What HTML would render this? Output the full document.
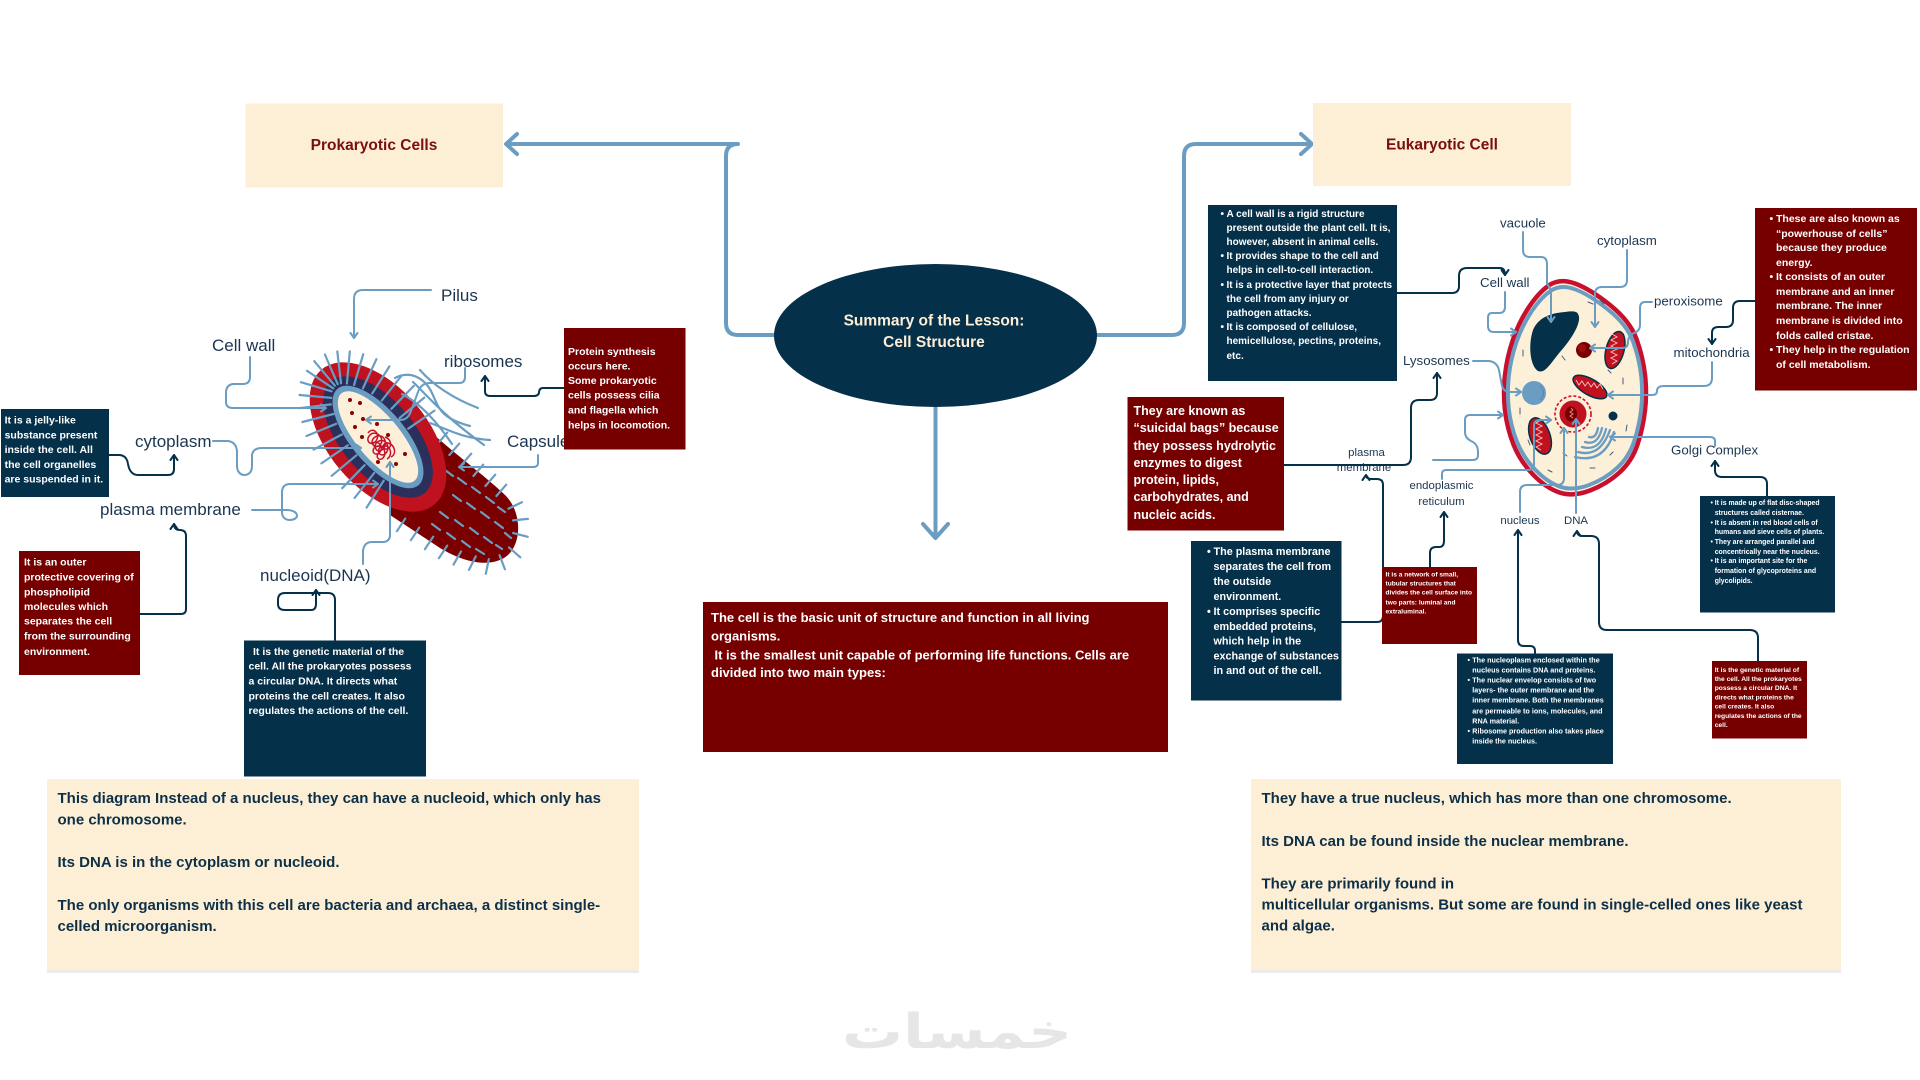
<!DOCTYPE html>
<html><head><meta charset="utf-8"><style>
html,body{margin:0;padding:0;background:#fff;width:1920px;height:1080px;overflow:hidden}
svg{display:block}
</style></head><body>
<svg width="1920" height="1080" viewBox="0 0 1920 1080" font-family="'Liberation Sans', Arial, sans-serif">
<defs>
<marker id="mb" markerUnits="userSpaceOnUse" markerWidth="10" markerHeight="10" refX="7" refY="5" orient="auto" overflow="visible"><path d="M2,1.5 L7,5 L2,8.5" fill="none" stroke="#6b9dc2" stroke-width="2" stroke-linecap="round" stroke-linejoin="round"/></marker>
<marker id="mn" markerUnits="userSpaceOnUse" markerWidth="10" markerHeight="10" refX="7" refY="5" orient="auto" overflow="visible"><path d="M2,1.5 L7,5 L2,8.5" fill="none" stroke="#05304a" stroke-width="2" stroke-linecap="round" stroke-linejoin="round"/></marker>
</defs>
<rect width="1920" height="1080" fill="#fff"/>

<!-- main connectors -->
<g fill="none" stroke="#6b9dc2" stroke-width="4" stroke-linecap="round" stroke-linejoin="round">
<path d="M775,335 H738 Q726,335 726,323 V156 Q726,144 738,144 H507"/>
<path d="M517,134 L506,144 L517,154"/>
<path d="M1096,335 H1172 Q1184,335 1184,323 V156 Q1184,144 1196,144 H1311"/>
<path d="M1301,134 L1312,144 L1301,154"/>
<path d="M935.5,408 V537"/>
<path d="M923,524 L935.5,538 L948,524"/>
</g>

<!-- title boxes -->
<rect x="245.5" y="103.5" width="257.5" height="84" fill="#fdefd6"/>
<text x="374" y="150" text-anchor="middle" font-size="15.5" font-weight="bold" fill="#7a0d0d">Prokaryotic Cells</text>
<rect x="1313" y="103" width="258" height="83" fill="#fdefd6"/>
<text x="1442" y="149.5" text-anchor="middle" font-size="15.5" font-weight="bold" fill="#7a0d0d">Eukaryotic Cell</text>

<!-- central ellipse -->
<ellipse cx="935.5" cy="335.5" rx="161.5" ry="71.5" fill="#05304a"/>
<text x="934" y="325.5" text-anchor="middle" font-size="15.5" font-weight="bold" fill="#fdeed5">Summary of the Lesson:</text>
<text x="934" y="347" text-anchor="middle" font-size="15.5" font-weight="bold" fill="#fdeed5">Cell Structure</text>

<!-- center red box -->
<rect x="703" y="602" width="465" height="150" fill="#760000"/>
<g font-size="13" font-weight="bold" fill="#fff">
<text x="711" y="622">The cell is the basic unit of structure and function in all living</text>
<text x="711" y="640.5">organisms.</text>
<text x="714.5" y="659.5">It is the smallest unit capable of performing life functions. Cells are</text>
<text x="711" y="677">divided into two main types:</text>
</g>

<!-- bottom cream boxes -->
<rect x="47" y="970" width="592" height="3" fill="#ececec"/>
<rect x="47" y="779" width="592" height="191" fill="#fdefd6"/>
<g font-size="15" font-weight="bold" fill="#0d3048">
<text x="57.5" y="803">This diagram Instead of a nucleus, they can have a nucleoid, which only has</text>
<text x="57.5" y="824.5">one chromosome.</text>
<text x="57.5" y="867">Its DNA is in the cytoplasm or nucleoid.</text>
<text x="57.5" y="910">The only organisms with this cell are bacteria and archaea, a distinct single-</text>
<text x="57.5" y="931">celled microorganism.</text>
</g>
<rect x="1251" y="970" width="590" height="3" fill="#ececec"/>
<rect x="1251" y="779" width="590" height="191" fill="#fdefd6"/>
<g font-size="15" font-weight="bold" fill="#0d3048">
<text x="1261.5" y="803">They have a true nucleus, which has more than one chromosome.</text>
<text x="1261.5" y="846">Its DNA can be found inside the nuclear membrane.</text>
<text x="1261.5" y="888.5">They are primarily found in</text>
<text x="1261.5" y="909.5">multicellular organisms. But some are found in single-celled ones like yeast</text>
<text x="1261.5" y="930.5">and algae.</text>
</g>

<!-- watermark -->
<text x="957" y="1048" text-anchor="middle" font-family="'DejaVu Sans', sans-serif" font-size="48" font-weight="bold" fill="#e6e6e6" textLength="230" lengthAdjust="spacingAndGlyphs">خمسات</text>

<!-- ============ BACTERIUM ============ -->
<g>
<path d="M395,398 L433,434 C460,458 490,480 506,496 C523,514 522,547 504,558 C488,567 465,563 440,548 L390,515 Z" fill="#7a0000"/>
<g stroke="#6b9dc2" stroke-width="2.2" stroke-linecap="round" fill="none">
<path d="M445,470 l8,6 M458,478 l8,6 M472,487 l8,6 M486,497 l8,6 M498,507 l7,5 M453,495 l8,6 M467,503 l8,6 M481,512 l8,6 M495,522 l8,6 M505,533 l6,5 M440,512 l8,6 M455,520 l8,6 M470,528 l8,6 M484,537 l8,6 M496,545 l6,4 M432,524 l8,6 M447,533 l8,6 M462,541 l8,6 M476,549 l8,5"/>
<path d="M437.4,444 L447.2,432.7 M449.4,455 L459.2,443.7 M461.4,465 L471.2,453.7 M473.4,476 L483.2,464.7 M485.4,486 L495.2,474.7 M496.4,496 L506.2,484.7 M508.4,508.7 L521.9,502.3 M513,520.4 L527.9,518.9 M513.1,533 L527.7,536.8 M509,547.4 L520.3,557.3 M499.6,555.2 L504.9,569.3 M488.8,559.1 L485.8,573.8 M475.8,556.4 L469,569.8 M461,551.5 L453.5,564.6 M447.2,545.7 L438.9,558.2 M433.2,536.7 L424.9,549.2 M419.2,527.7 L410.9,540.2 M405.2,518.7 L396.9,531.2"/>
</g>
<ellipse cx="378" cy="437" rx="88" ry="50" transform="rotate(50 378 437)" fill="#c0111f"/>
<ellipse cx="378" cy="437" rx="73" ry="37" transform="rotate(50 378 437)" fill="#2b2f5c"/>
<ellipse cx="378" cy="437" rx="63" ry="27" transform="rotate(50 378 437)" fill="#6b9dc2"/>
<ellipse cx="378" cy="437" rx="57" ry="21.5" transform="rotate(50 378 437)" fill="#fdf0da"/>
<g fill="#8b0000">
<circle cx="350" cy="400" r="2"/><circle cx="360" cy="403" r="2"/><circle cx="352" cy="413" r="2"/><circle cx="363" cy="419" r="2"/><circle cx="355" cy="427" r="2"/><circle cx="377" cy="424" r="2"/><circle cx="362" cy="437" r="2"/><circle cx="388" cy="435" r="2"/><circle cx="405" cy="454" r="2"/><circle cx="378" cy="462" r="2"/><circle cx="396" cy="464" r="2"/>
</g>
<path d="M368,433 c5,-7 13,1 8,8 c-4,6 -12,0 -6,-6 c6,-6 16,4 10,10 c-5,5 -12,-3 -5,-8 c8,-5 14,6 8,12 c-6,6 -12,-4 -4,-8 c8,-3 12,8 6,13 c-6,4 -10,-6 -2,-8 c8,-2 10,10 4,13 M372,443 c6,-3 12,3 8,9 c-4,5 -10,0 -5,-5 c7,-4 13,5 8,11 c-4,4 -9,-2 -3,-6 M385,437 c6,2 8,10 2,12 c-5,1 -5,-7 1,-6 c7,2 9,11 3,14" fill="none" stroke="#c8102e" stroke-width="1.5"/>
<g stroke="#6b9dc2" stroke-width="2.2" stroke-linecap="round" fill="none" transform="translate(0,-3)">
<path d="M383.7,483.6 L366.6,510.6 M374.2,476 L354.6,501 M364.6,468.2 L342.2,491.2 M356.4,458.3 L331.7,478.8 M347.8,448.3 L321.4,466.4 M341.8,437.5 L313.6,452.6 M336.2,426.8 L306.5,439 M333.5,417 L302.4,425 M330.9,407.4 L299,411.2 M331.3,400.9 L299.6,398 M331.5,394.3 L300.9,385.2 M333.3,391.4 L307,373.8 M334.9,388.7 L314.3,364.2 M337.7,387.1 L324.9,357.5 M341,386.3 L337.3,354.5 M346.9,386.5 L349.8,354.5 M354.1,387.9 L363.2,357.3 M362.9,391.4 L376.4,362.2 M372.3,396.4 L389.4,369.4 M381.8,403.5 L401.7,378.5 M391.4,411.8 L413.8,388.9 M399.6,421 L424.3,400.6 M408.2,431.7 L434.5,413.6"/>
</g>
<g stroke="#6b9dc2" stroke-width="2.2" stroke-linecap="round" fill="none">
<path d="M395,378 C410,370 425,378 432,393 S440,418 470,426"/>
<path d="M413,382 C425,393 440,413 484,445"/>
<path d="M402,394 C420,403 438,423 452,444"/>
<path d="M420,370 C432,384 452,398 478,408"/>
<path d="M430,423 C445,428 460,438 490,440"/>
</g>
</g>

<!-- bacterium label connectors (light blue) -->
<g fill="none" stroke="#6b9dc2" stroke-width="2" stroke-linecap="round" stroke-linejoin="round" marker-end="url(#mb)">
<path d="M431,290 H363 Q354,290 354,299 V338"/>
<path d="M250,357 V377 Q250,384 243,384 H233 Q226,385 226,393 V402 Q226,408 233,408 H326"/>
<path d="M465,368 V377 Q465,383 459,383 H430 Q421,383 418,392 L411,411 Q408,420 400,420 H366"/>
<path d="M538,455 V463 Q538,467 533,467 H459"/>
<path d="M213,441 H228 Q236,442 237,451 V467 Q238,475 245,475 Q252,474 252,466 V455 Q253,448 262,448 H361"/>
<path d="M252,510 H288 Q297,511 297,516 Q296,520 289,520 Q282,519 282,512 V491 Q283,484 290,484 H378"/>
<path d="M363,564 V551 Q364,542 372,542 H384 Q390,541 390,535 V462"/>
</g>
<!-- navy connectors left -->
<g fill="none" stroke="#05304a" stroke-width="2" stroke-linecap="round" stroke-linejoin="round" marker-end="url(#mn)">
<path d="M564,388 H543 Q539,388 539,393 Q538,396 534,396 H490 Q485,396 485,391 V376"/>
<path d="M109,455 H120 Q127,456 128,464 Q130,475 138,475 H168 Q174,475 174,469 V455"/>
<path d="M140,614 H181 Q186,614 186,609 V536 Q186,530 180,530 Q174,530 174,524"/>
<path d="M335,640 V600 Q335,593 328,593 H285 Q278,593 278,600 V604 Q278,610 285,610 H311 Q316,610 316,604 V590"/>
</g>

<!-- left labels -->
<g font-size="17" fill="#1b3550">
<text x="441" y="301">Pilus</text>
<text x="212" y="351">Cell wall</text>
<text x="444" y="367">ribosomes</text>
<text x="507" y="447">Capsule</text>
<text x="135" y="447">cytoplasm</text>
<text x="100" y="515">plasma membrane</text>
<text x="260" y="581">nucleoid(DNA)</text>
</g>

<!-- left boxes -->
<rect x="564" y="328" width="121.5" height="121.5" fill="#760000"/>
<g font-size="10.5" font-weight="bold" fill="#fff">
<text x="568" y="355">Protein synthesis</text>
<text x="568" y="369.5">occurs here.</text>
<text x="568" y="384">Some prokaryotic</text>
<text x="568" y="398.5">cells possess cilia</text>
<text x="568" y="413.5">and flagella which</text>
<text x="568" y="428.5">helps in locomotion.</text>
</g>
<rect x="1" y="409" width="108" height="88" fill="#05304a"/>
<g font-size="10.5" font-weight="bold" fill="#fff">
<text x="4.6" y="423.5">It is a jelly-like</text>
<text x="4.6" y="438.5">substance present</text>
<text x="4.6" y="453">inside the cell. All</text>
<text x="4.6" y="468">the cell organelles</text>
<text x="4.6" y="482.5">are suspended in it.</text>
</g>
<rect x="19" y="551" width="121" height="124" fill="#760000"/>
<g font-size="10.5" font-weight="bold" fill="#fff">
<text x="24" y="565.5">It is an outer</text>
<text x="24" y="580.5">protective covering of</text>
<text x="24" y="595.5">phospholipid</text>
<text x="24" y="610">molecules which</text>
<text x="24" y="624.5">separates the cell</text>
<text x="24" y="639.5">from the surrounding</text>
<text x="24" y="655">environment.</text>
</g>
<rect x="244" y="640.5" width="182" height="136" fill="#05304a"/>
<g font-size="10.5" font-weight="bold" fill="#fff">
<text x="253" y="655">It is the genetic material of the</text>
<text x="248.5" y="669.5">cell. All the prokaryotes possess</text>
<text x="248.5" y="684.5">a circular DNA. It directs what</text>
<text x="248.5" y="699.5">proteins the cell creates. It also</text>
<text x="248.5" y="714">regulates the actions of the cell.</text>
</g>

<!-- ============ EUKARYOTIC CELL ============ -->
<g>
<path d="M1549.5,285 Q1560,278 1575,283.5 Q1590,289 1610,305 Q1630,321 1636.5,339 Q1643,357 1645,375 Q1647,393 1645,410.5 Q1643,428 1637.5,444.5 Q1632,461 1619.5,472.5 Q1607,484 1590,490.5 Q1573,497 1559.5,492.5 Q1546,488 1533,474.5 Q1520,461 1513.5,444.5 Q1507,428 1505,410.5 Q1503,393 1505,375 Q1507,357 1513,339.5 Q1519,322 1529,307 Q1539,292 1549.5,285 Z" fill="#fdf0d8" stroke="#c8102e" stroke-width="4.5" stroke-linejoin="round"/>
<path d="M1549.5,285 Q1560,278 1575,283.5 Q1590,289 1610,305 Q1630,321 1636.5,339 Q1643,357 1645,375 Q1647,393 1645,410.5 Q1643,428 1637.5,444.5 Q1632,461 1619.5,472.5 Q1607,484 1590,490.5 Q1573,497 1559.5,492.5 Q1546,488 1533,474.5 Q1520,461 1513.5,444.5 Q1507,428 1505,410.5 Q1503,393 1505,375 Q1507,357 1513,339.5 Q1519,322 1529,307 Q1539,292 1549.5,285 Z" fill="none" stroke="#6b9dc2" stroke-width="4.2" stroke-linejoin="round" transform="translate(1575 389) scale(0.945) translate(-1575 -389)"/>
<g stroke="#4a5a78" stroke-width="1" fill="none" stroke-linecap="round">
<path d="M1588,302 l5,2 M1523,350 l0,6 M1520,408 l0,6 M1563,453 l4,3 M1590,468 l5,0 M1623,378 l0,6 M1627,425 l-1,6 M1562,356 l3,4 M1600,300 l4,4 M1608,370 l3,3 M1528,440 l2,5 M1548,470 l4,2 M1610,455 l3,-3 M1540,390 l3,4"/>
</g>
<path d="M1578,314 C1582,320 1575,335 1560,352 C1550,364 1545,374 1538,371 C1530,366 1528,345 1533,330 C1538,318 1550,313 1565,312 C1572,311 1577,311 1578,314 Z" fill="#05304a"/>
<circle cx="1584" cy="350" r="8" fill="#7a0000"/>
<circle cx="1582" cy="348" r="4" fill="#9a1010"/>
<g stroke="#05304a" stroke-width="1.5">
<ellipse cx="1615" cy="350" rx="9" ry="19" transform="rotate(15 1615 350)" fill="#c0111f"/>
<ellipse cx="1590" cy="387" rx="19" ry="8" transform="rotate(30 1590 387)" fill="#c0111f"/>
<ellipse cx="1540" cy="436" rx="10" ry="19" transform="rotate(-20 1540 436)" fill="#c0111f"/>
</g>
<g stroke="#f3c9c9" stroke-width="0.9" fill="none">
<path d="M1612,334 l5,3 l-6,3 l6,3 l-6,3 l6,3 l-6,3 l6,3 l-6,3 l6,3 l-5,3"/>
<path d="M1576,380 l3,5 l3,-4 l3,5 l3,-4 l3,5 l3,-4 l3,5 l3,-4 l3,5"/>
<path d="M1541,420 l-5,3 l6,3 l-6,3 l6,3 l-6,3 l6,3 l-6,3 l6,3 l-6,3 l5,3"/>
</g>
<circle cx="1534" cy="393" r="12" fill="#6b9dc2"/>
<path d="M1540,386 a9,9 0 0 1 0,14" stroke="#4f7fa8" stroke-width="0.8" fill="none"/>
<circle cx="1573" cy="414" r="18" fill="none" stroke="#c8102e" stroke-width="1.6" stroke-dasharray="3 2"/>
<circle cx="1573" cy="414" r="13.5" fill="#c0111f"/>
<ellipse cx="1571" cy="414" rx="6" ry="7.5" fill="#7a0000"/>
<path d="M1571,408 l2,2 l-3,2 l3,2 l-3,2 l3,2" stroke="#e8a0a0" stroke-width="0.8" fill="none"/>
<circle cx="1613" cy="416" r="4.5" fill="#05304a"/>
<g stroke="#6b9dc2" stroke-width="2.3" fill="none" stroke-linecap="round">
<path d="M1575,457 Q1604,464 1614,432"/>
<path d="M1578,452 Q1600,458 1610,430"/>
<path d="M1582,447 Q1600,452 1606,429"/>
<path d="M1585,442 Q1598,446 1602,428"/>
<path d="M1589,437 Q1596,439 1598,428"/>
</g>
</g>

<!-- euk label connectors (light blue) -->
<g fill="none" stroke="#6b9dc2" stroke-width="2" stroke-linecap="round" stroke-linejoin="round" marker-end="url(#mb)">
<path d="M1523,232 V250 Q1523,257 1530,257 H1541 Q1547,257 1547,264 V284 Q1551,288 1551,294 V322"/>
<path d="M1627,250 V280 Q1627,287 1620,287 H1602 Q1595,287 1595,294 V327"/>
<path d="M1505,292 V307 Q1505,313 1499,313 H1492 Q1488,313 1488,318 V326 Q1488,332 1494,332 H1516"/>
<path d="M1652,302 H1645 Q1640,302 1640,308 V325 Q1640,331 1634,333 Q1628,336 1628,342 Q1628,348 1622,348 H1590"/>
<path d="M1712,362 V378 Q1712,386 1704,386 H1664 Q1657,386 1657,391 Q1657,395 1652,395 H1608"/>
<path d="M1473,361 H1489 Q1497,362 1499,370 L1502,386 Q1504,392 1510,392 H1521"/>
<path d="M1715,446 V441 Q1715,437 1710,437 H1610"/>
<path d="M1433,460 H1473 Q1478,460 1478,455 V452 Q1478,444 1471,441 Q1465,438 1465,432 V420 Q1465,415 1470,415 H1503"/>
<path d="M1442,479 V474 Q1442,470 1446,470 H1528 Q1534,470 1534,464 V426 Q1534,420 1540,420 H1551"/>
<path d="M1520,512 V492 Q1520,485 1527,485 H1557 Q1564,485 1564,478 V428"/>
<path d="M1576,513 V419"/>
</g>

<!-- euk labels -->
<g font-size="13.3" fill="#1b3550">
<text x="1500" y="227.5">vacuole</text>
<text x="1597" y="245">cytoplasm</text>
<text x="1480" y="287">Cell wall</text>
<text x="1654" y="305.5">peroxisome</text>
<text x="1673.5" y="357">mitochondria</text>
<text x="1403" y="365">Lysosomes</text>
<text x="1671" y="454.5">Golgi Complex</text>
</g>
<g font-size="11.4" fill="#1b3550" text-anchor="middle">
<text x="1366.5" y="456">plasma</text>
<text x="1364" y="471">membrane</text>
<text x="1441.5" y="489">endoplasmic</text>
<text x="1441.5" y="505">reticulum</text>
<text x="1520" y="524">nucleus</text>
<text x="1576" y="524">DNA</text>
</g>

<!-- navy connectors right -->
<g fill="none" stroke="#05304a" stroke-width="2" stroke-linecap="round" stroke-linejoin="round" marker-end="url(#mn)">
<path d="M1397,293 H1452 Q1459,293 1459,286 V276 Q1459,268 1467,268 H1500 Q1505,268 1505,275"/>
<path d="M1755,301 H1740 Q1733,301 1733,308 V320 Q1733,327 1726,327 H1718 Q1712,327 1712,333 V344"/>
<path d="M1284,465 H1403 Q1411,465 1411,457 V408 Q1411,400 1419,400 H1430 Q1437,400 1437,393 V373"/>
<path d="M1341,622 H1377 Q1383,622 1383,616 V485 Q1383,479 1377,479 H1372 Q1366,479 1366,475"/>
<path d="M1430,567 V553 Q1430,547 1436,547 H1439 Q1444,547 1444,541 V512"/>
<path d="M1535,653 V651 Q1535,646 1530,646 H1524 Q1518,646 1518,640 V530"/>
<path d="M1758,661 V638 Q1758,630 1750,630 H1607 Q1599,630 1599,622 V544 Q1599,536 1591,536 H1583 Q1577,536 1577,531"/>
<path d="M1767,496 V484 Q1767,477 1760,477 H1722 Q1715,477 1715,470 V461"/>
</g>

<!-- euk boxes -->
<rect x="1208" y="205" width="189" height="176" fill="#05304a"/>
<g font-size="10" font-weight="bold" fill="#fff">
<text x="1220.5" y="217">•</text><text x="1226.5" y="217">A cell wall is a rigid structure</text>
<text x="1226.5" y="231">present outside the plant cell. It is,</text>
<text x="1226.5" y="245">however, absent in animal cells.</text>
<text x="1220.5" y="259">•</text><text x="1226.5" y="259">It provides shape to the cell and</text>
<text x="1226.5" y="273">helps in cell-to-cell interaction.</text>
<text x="1220.5" y="288">•</text><text x="1226.5" y="288">It is a protective layer that protects</text>
<text x="1226.5" y="302">the cell from any injury or</text>
<text x="1226.5" y="316">pathogen attacks.</text>
<text x="1220.5" y="330">•</text><text x="1226.5" y="330">It is composed of cellulose,</text>
<text x="1226.5" y="344">hemicellulose, pectins, proteins,</text>
<text x="1226.5" y="359">etc.</text>
</g>

<rect x="1755" y="208" width="162" height="182.5" fill="#760000"/>
<g font-size="10.5" font-weight="bold" fill="#fff">
<text x="1769.5" y="222">•</text><text x="1776" y="222">These are also known as</text>
<text x="1776" y="237">“powerhouse of cells”</text>
<text x="1776" y="251">because they produce</text>
<text x="1776" y="266">energy.</text>
<text x="1769.5" y="280">•</text><text x="1776" y="280">It consists of an outer</text>
<text x="1776" y="295">membrane and an inner</text>
<text x="1776" y="309">membrane. The inner</text>
<text x="1776" y="324">membrane is divided into</text>
<text x="1776" y="339">folds called cristae.</text>
<text x="1769.5" y="353">•</text><text x="1776" y="353">They help in the regulation</text>
<text x="1776" y="368">of cell metabolism.</text>
</g>

<rect x="1127.5" y="397" width="156.5" height="133.5" fill="#760000"/>
<g font-size="12.5" font-weight="bold" fill="#fff">
<text x="1133.5" y="415">They are known as</text>
<text x="1133.5" y="432">“suicidal bags” because</text>
<text x="1133.5" y="450">they possess hydrolytic</text>
<text x="1133.5" y="467">enzymes to digest</text>
<text x="1133.5" y="484">protein, lipids,</text>
<text x="1133.5" y="501">carbohydrates, and</text>
<text x="1133.5" y="519">nucleic acids.</text>
</g>

<rect x="1191" y="541" width="150.5" height="159.5" fill="#05304a"/>
<g font-size="10.8" font-weight="bold" fill="#fff">
<text x="1207" y="555">•</text><text x="1213.5" y="555">The plasma membrane</text>
<text x="1213.5" y="570">separates the cell from</text>
<text x="1213.5" y="585">the outside</text>
<text x="1213.5" y="600">environment.</text>
<text x="1207" y="615">•</text><text x="1213.5" y="615">It comprises specific</text>
<text x="1213.5" y="630">embedded proteins,</text>
<text x="1213.5" y="644.5">which help in the</text>
<text x="1213.5" y="659.5">exchange of substances</text>
<text x="1213.5" y="674">in and out of the cell.</text>
</g>

<rect x="1382" y="567" width="95" height="77" fill="#760000"/>
<g font-size="6.6" font-weight="bold" fill="#fff">
<text x="1385.5" y="576.5">It is a network of small,</text>
<text x="1385.5" y="585.5">tubular structures that</text>
<text x="1385.5" y="594.5">divides the cell surface into</text>
<text x="1385.5" y="604.5">two parts: luminal and</text>
<text x="1385.5" y="613.5">extraluminal.</text>
</g>

<rect x="1457" y="653.5" width="156" height="110.5" fill="#05304a"/>
<g font-size="7.2" font-weight="bold" fill="#fff">
<text x="1467.5" y="662.7">•</text><text x="1472.3" y="662.7">The nucleoplasm enclosed within the</text>
<text x="1472.3" y="672.7">nucleus contains DNA and proteins.</text>
<text x="1467.5" y="682.7">•</text><text x="1472.3" y="682.7">The nuclear envelop consists of two</text>
<text x="1472.3" y="692.7">layers- the outer membrane and the</text>
<text x="1472.3" y="702.7">inner membrane. Both the membranes</text>
<text x="1472.3" y="713.7">are permeable to ions, molecules, and</text>
<text x="1472.3" y="723.7">RNA material.</text>
<text x="1467.5" y="733.7">•</text><text x="1472.3" y="733.7">Ribosome production also takes place</text>
<text x="1472.3" y="743.7">inside the nucleus.</text>
</g>

<rect x="1700" y="496" width="135" height="116.5" fill="#05304a"/>
<g font-size="6.9" font-weight="bold" fill="#fff">
<text x="1710.5" y="504.9">•</text><text x="1714.7" y="504.9">It is made up of flat disc-shaped</text>
<text x="1714.7" y="514.9">structures called cisternae.</text>
<text x="1710.5" y="524.9">•</text><text x="1714.7" y="524.9">It is absent in red blood cells of</text>
<text x="1714.7" y="534.1">humans and sieve cells of plants.</text>
<text x="1710.5" y="543.8">•</text><text x="1714.7" y="543.8">They are arranged parallel and</text>
<text x="1714.7" y="553.8">concentrically near the nucleus.</text>
<text x="1710.5" y="563">•</text><text x="1714.7" y="563">It is an important site for the</text>
<text x="1714.7" y="573">formation of glycoproteins and</text>
<text x="1714.7" y="583">glycolipids.</text>
</g>

<rect x="1712" y="661" width="95" height="77.5" fill="#760000"/>
<g font-size="6.7" font-weight="bold" fill="#fff">
<text x="1714.7" y="672">It is the genetic material of</text>
<text x="1714.7" y="681">the cell. All the prokaryotes</text>
<text x="1714.7" y="690.2">possess a circular DNA. It</text>
<text x="1714.7" y="699.4">directs what proteins the</text>
<text x="1714.7" y="708.6">cell creates. It also</text>
<text x="1714.7" y="717.9">regulates the actions of the</text>
<text x="1714.7" y="726.8">cell.</text>
</g>
</svg>
</body></html>
